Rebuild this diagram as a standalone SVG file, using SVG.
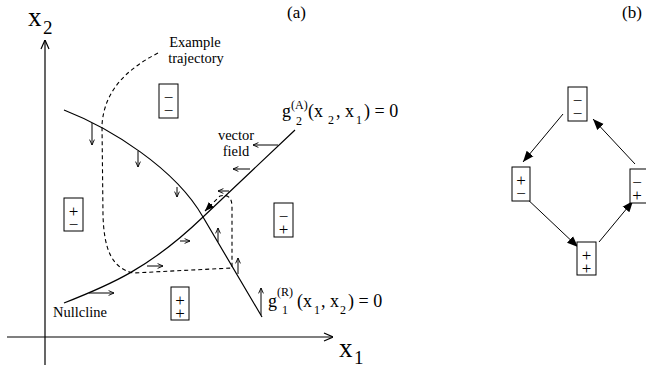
<svg xmlns="http://www.w3.org/2000/svg" width="646" height="370" viewBox="0 0 646 370">
<style>
.ln{fill:none;stroke:#000;stroke-width:1.2}
.ax{fill:none;stroke:#000;stroke-width:1.2}
.va{fill:none;stroke:#000;stroke-width:1;marker-end:url(#open)}
.dash{fill:none;stroke:#000;stroke-width:1.1;stroke-dasharray:4,3}
.bx{fill:#fff;stroke:#000;stroke-width:1}
.ba{fill:none;stroke:#000;stroke-width:1;marker-end:url(#solid)}
text{font-family:"Liberation Serif","Times New Roman",serif;fill:#000}
.sg{font-size:17px;writing-mode:vertical-rl;text-orientation:upright;letter-spacing:-6px}
.lb{font-size:14.5px}
.eq{font-size:18px}
.sm{font-size:12px}
.big{font-size:27px}
.bs{font-size:19px}
</style>
<defs>
<marker id="open" viewBox="0 0 10 10" refX="10" refY="5" markerWidth="6" markerHeight="6" markerUnits="userSpaceOnUse" orient="auto">
<path d="M1,1 L10,5 L1,9" fill="none" stroke="#000" stroke-width="1.5"/>
</marker>
<marker id="axis" viewBox="0 0 10 10" refX="10" refY="5" markerWidth="10" markerHeight="10" markerUnits="userSpaceOnUse" orient="auto">
<path d="M1,1 L10,5 L1,9" fill="none" stroke="#000" stroke-width="1.2"/>
</marker>
<marker id="solid" viewBox="0 0 10 10" refX="10" refY="5" markerWidth="11" markerHeight="11" markerUnits="userSpaceOnUse" orient="auto">
<path d="M0,1 L10,5 L0,9 z" fill="#000"/>
</marker>
<marker id="solidsm" viewBox="0 0 10 10" refX="10" refY="5" markerWidth="9" markerHeight="9" markerUnits="userSpaceOnUse" orient="auto">
<path d="M0,1 L10,5 L0,9 z" fill="#000"/>
</marker>
</defs>

<!-- panel labels -->
<text x="287" y="18" style="font-size:17px">(a)</text>
<text x="622" y="18" style="font-size:17px">(b)</text>

<!-- axes -->
<g id="axes">
<path class="ax" d="M45,365 L45,40" marker-end="url(#axis)"/>
<path class="ax" d="M7,337 L333,337" marker-end="url(#axis)"/>
<text class="big" x="28" y="26">x<tspan class="bs" x="43" y="34">2</tspan></text>
<text class="big" x="339" y="357">x<tspan class="bs" x="354" y="364">1</tspan></text>
</g>

<!-- nullclines and trajectory -->
<g id="connectors">
<path id="nullcline-R" class="ln" d="M64,110 C110,128 175,168 203,217 L262,317"/>
<path id="nullcline-A" class="ln" d="M64,303 C110,285 150,268 203,217 L295,130"/>
<path id="trajectory" class="dash" d="M158,53 C125,70 104,92 102,125 L103,215 C104,250 112,268 133,273 L232,268 L232,207 Q232,193 220,196 L205,211" marker-end="url(#solidsm)"/>
<!-- vector field arrows -->
<path class="va" d="M92,123 L92,145"/>
<path class="va" d="M138,151 L138,167"/>
<path class="va" d="M177,187 L177,197"/>
<path class="va" d="M218,242 L218,228"/>
<path class="va" d="M238,274 L238,258"/>
<path class="va" d="M261,315 L261,288"/>
<path class="va" d="M89,293 L114,293"/>
<path class="va" d="M147,266 L163,266"/>
<path class="va" d="M180,241 L190,241"/>
<path class="va" d="M229,191 L218,191"/>
<path class="va" d="M250,169 L233,169"/>
<path class="va" d="M278,145 L253,145"/>
<!-- panel b arrows -->
<path class="ba" d="M563,114 L523,162"/>
<path class="ba" d="M524,196 L578,247"/>
<path class="ba" d="M599,242 L633,201"/>
<path class="ba" d="M635,164 L593,119"/>
</g>

<!-- labels -->
<g id="labels">
<text class="lb" x="195" y="46.5" text-anchor="middle">Example</text>
<text class="lb" x="196" y="62.5" text-anchor="middle">trajectory</text>
<text class="lb" x="236" y="140" text-anchor="middle">vector</text>
<text class="lb" x="236" y="156" text-anchor="middle">field</text>
<text class="lb" x="53" y="317">Nullcline</text>
<text class="eq" x="282" y="117">g<tspan class="sm" x="291" y="108.5">(A)</tspan><tspan class="sm" x="296" y="125">2</tspan><tspan x="308" y="117">(x</tspan><tspan class="sm" x="328" y="124">2</tspan><tspan x="336" y="117">, x</tspan><tspan class="sm" x="356" y="124">1</tspan><tspan x="364" y="117">) = 0</tspan></text>
<text class="eq" x="268" y="307">g<tspan class="sm" x="277" y="296">(R)</tspan><tspan class="sm" x="282" y="314">1</tspan><tspan x="297" y="307">(x</tspan><tspan class="sm" x="314" y="314">1</tspan><tspan x="321" y="307">, x</tspan><tspan class="sm" x="340" y="314">2</tspan><tspan x="348" y="307">) = 0</tspan></text>
</g>

<!-- panel a region boxes -->
<g id="a-mm"><rect class="bx" x="159" y="84" width="19" height="34"/><text class="sg" x="168.5" y="88">−−</text></g>
<g id="a-pm"><rect class="bx" x="64" y="198" width="19" height="33"/><text class="sg" x="73.5" y="202">+−</text></g>
<g id="a-mp"><rect class="bx" x="274" y="203" width="19" height="34"/><text class="sg" x="283.5" y="207">−+</text></g>
<g id="a-pp"><rect class="bx" x="171" y="287" width="18" height="33"/><text class="sg" x="180" y="291">++</text></g>

<!-- panel b state boxes -->
<g id="b-mm"><rect class="bx" x="568" y="87" width="19" height="34"/><text class="sg" x="577.5" y="91">−−</text></g>
<g id="b-pm"><rect class="bx" x="512" y="167" width="18" height="34"/><text class="sg" x="521" y="171">+−</text></g>
<g id="b-pp"><rect class="bx" x="577" y="242" width="19" height="33"/><text class="sg" x="586.5" y="246">++</text></g>
<g id="b-mp"><rect class="bx" x="630" y="169" width="19" height="34"/><text class="sg" x="637" y="173">−+</text></g>
</svg>
